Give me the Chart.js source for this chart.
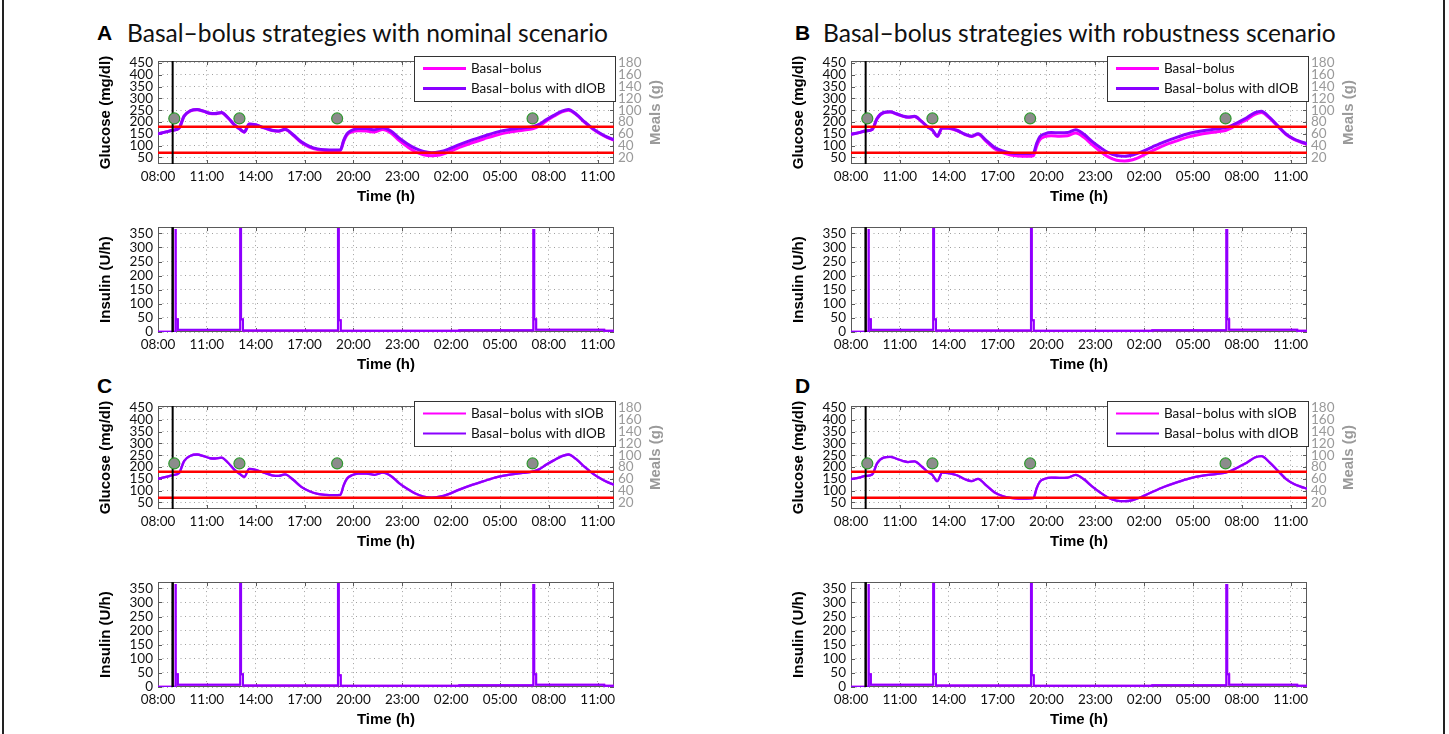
<!DOCTYPE html>
<html>
<head>
<meta charset="utf-8">
<title>Basal-bolus strategies</title>
<script src="https://cdn.jsdelivr.net/npm/chart.js@4.4.1/dist/chart.umd.min.js"></script>
<style>
  body { margin: 0; background: #fff; }
  #figure { position: relative; width: 1449px; height: 734px; overflow: hidden; background: #fff; }
  #figure canvas { position: absolute; }
  .letter { position: absolute; font: bold 21px "Liberation Sans", Arial, sans-serif; line-height: 24px; color: #000; }
  .title { position: absolute; font: 24.6px Lato, sans-serif; line-height: 28px; color: #111; white-space: nowrap; }
  .frame { position: absolute; top: 0; bottom: 0; width: 0; border-left: 2px solid #222; }
</style>
</head>
<body>
<div id="figure">
  <div class="frame" style="left:2px"></div>
  <div class="frame" style="left:1443px"></div>
  <div class="letter" style="left:97px;top:21px">A</div>
  <div class="title" style="left:127px;top:19px">Basal–bolus strategies with nominal scenario</div>
  <div class="letter" style="left:795px;top:21px">B</div>
  <div class="title" style="left:823px;top:19px">Basal–bolus strategies with robustness scenario</div>
  <div class="letter" style="left:97px;top:374px">C</div>
  <div class="letter" style="left:795px;top:374px">D</div>
</div>

<script>
// hours after 08:00 of the first day
const timeTickHours = [0, 3, 6, 9, 12, 15, 18, 21, 24, 27];
const timeTickLabels = ['08:00', '11:00', '14:00', '17:00', '20:00', '23:00', '02:00', '05:00', '08:00', '11:00'];
const glucoseTicks = [50, 100, 150, 200, 250, 300, 350, 400, 450];
const mealTicks = [20, 40, 60, 80, 100, 120, 140, 160, 180];
const insulinTicks = [0, 50, 100, 150, 200, 250, 300, 350];

const simStartHour = 0.9;
const glucoseLimits = [70, 180];
const mealHours = [1.0, 5.0, 11.0, 23.0];
const mealGrams = [86, 86, 86, 86];

const glucoseHours = [0, 0.5, 0.9, 1.3, 1.6, 2.0, 2.4, 2.8, 3.2, 3.5,
  3.9, 4.3, 4.7, 5.0, 5.3, 5.6, 6.0, 6.5, 7.0, 7.4,
  7.8, 8.3, 8.8, 9.3, 9.8, 10.3, 10.8, 11.2, 11.4, 11.6,
  11.9, 12.3, 12.8, 13.3, 13.8, 14.3, 14.8, 15.3, 15.8, 16.3,
  16.8, 17.3, 17.8, 18.5, 19.2, 20.0, 20.8, 21.6, 22.4, 23.0,
  23.4, 23.8, 24.3, 24.8, 25.2, 25.7, 26.2, 26.7, 27.2, 27.6, 28];

// nominal scenario
const glucoseNominalBasal = [150, 158, 165, 175, 224, 247, 252, 245, 236, 235,
  239, 217, 187, 171, 157, 190, 187, 175, 164, 161,
  168, 144, 113, 94, 83, 79, 78, 79, 118, 145,
  158, 163, 162, 158, 168, 153, 122, 96, 74, 61,
  57, 60, 71, 92, 110, 128, 145, 157, 165, 171,
  182, 202, 224, 243, 250, 230, 198, 170, 148, 134, 123];
const glucoseNominalDiob = [150, 158, 165, 175, 225, 248, 253, 246, 237, 236,
  240, 218, 188, 172, 158, 192, 188, 176, 165, 162,
  169, 146, 116, 97, 86, 82, 81, 82, 122, 150,
  165, 172, 172, 167, 176, 162, 132, 108, 88, 75,
  70, 74, 84, 104, 122, 140, 157, 168, 175, 180,
  190, 208, 228, 246, 253, 232, 200, 172, 150, 136, 125];
const glucoseNominalSiob = [150, 158, 165, 175, 225, 248, 253, 246, 237, 236,
  240, 218, 188, 172, 158, 192, 188, 176, 165, 162,
  169, 146, 116, 97, 86, 82, 81, 82, 122, 150,
  165, 172, 172, 167, 176, 162, 132, 108, 88, 75,
  70, 74, 84, 104, 122, 140, 157, 168, 175, 180,
  190, 208, 228, 246, 253, 232, 200, 172, 150, 136, 125];

// robustness scenario
const glucoseRobustBasal = [148, 155, 162, 168, 214, 239, 242, 234, 224, 220,
  223, 204, 179, 165, 139, 175, 173, 164, 147, 139,
  148, 118, 88, 70, 60, 56, 55, 57, 98, 125,
  138, 142, 140, 142, 153, 135, 104, 76, 52, 38,
  35, 40, 54, 78, 100, 120, 138, 150, 158, 164,
  176, 192, 210, 232, 240, 216, 182, 148, 126, 115, 106];
const glucoseRobustDiob = [148, 155, 162, 168, 215, 240, 243, 235, 225, 221,
  224, 205, 180, 166, 140, 176, 174, 165, 148, 140,
  150, 122, 93, 77, 69, 66, 66, 68, 110, 138,
  150, 155, 154, 155, 167, 148, 118, 92, 70, 58,
  55, 60, 72, 94, 115, 135, 152, 163, 170, 176,
  186, 200, 218, 240, 246, 220, 185, 150, 128, 117, 108];
const glucoseRobustSiob = [148, 155, 162, 168, 215, 240, 243, 235, 225, 221,
  224, 205, 180, 166, 140, 176, 174, 165, 148, 140,
  150, 122, 93, 77, 69, 66, 66, 68, 110, 138,
  150, 155, 154, 155, 167, 148, 118, 92, 70, 58,
  55, 60, 72, 94, 115, 135, 152, 163, 170, 176,
  186, 200, 218, 240, 246, 220, 185, 150, 128, 117, 108];

// insulin delivery, boluses at the meals
const insulinHours = [0, 1.05, 1.05, 1.1, 1.1, 1.22, 1.22, 5.05, 5.05, 5.1,
  5.1, 5.22, 5.22, 11.05, 11.05, 11.1, 11.1, 11.22, 11.22, 18.5,
  18.5, 23.05, 23.05, 23.1, 23.1, 23.22, 23.22, 27.4, 27.4, 28];
const insulinBasal = [1, 1, 365, 365, 45, 45, 7, 7, 365, 365,
  44, 44, 5, 5, 365, 365, 42, 42, 4, 4,
  6, 6, 362, 362, 45, 45, 8, 8, 4, 4];
const insulinDiob = [1, 1, 365, 365, 45, 45, 8, 8, 365, 365,
  45, 45, 5, 5, 365, 365, 42, 42, 4, 4,
  6, 6, 362, 362, 45, 45, 8, 8, 4, 4];

const glucoseMin = 22;
const glucoseMax = 458;
const insulinMax = 372;
const magenta = '#ff00ff';
const violet = '#8b00ff';

const tickFont = { family: 'Lato', size: 13.5 };
const axisTitleFont = { family: 'Liberation Sans', size: 15, weight: 'bold' };
const gridColor = '#a0a0a0';

function points(xs, ys) {
  return xs.map((x, i) => ({ x: x, y: ys[i] }));
}

function fixedTicks(values) {
  return scale => { scale.ticks = values.map(v => ({ value: v })); };
}

// MATLAB style box with inward tick marks
const axesBox = {
  id: 'axesBox',
  beforeDatasetsDraw(chart) {
    const { ctx, chartArea: a, scales } = chart;
    ctx.save();
    ctx.strokeStyle = '#5a5a5a';
    ctx.lineWidth = 1;
    ctx.beginPath();
    scales.x.ticks.forEach(t => {
      const x = Math.round(scales.x.getPixelForValue(t.value)) + 0.5;
      ctx.moveTo(x, a.bottom); ctx.lineTo(x, a.bottom - 4);
      ctx.moveTo(x, a.top); ctx.lineTo(x, a.top + 4);
    });
    scales.y.ticks.forEach(t => {
      const y = Math.round(scales.y.getPixelForValue(t.value)) + 0.5;
      ctx.moveTo(a.left, y); ctx.lineTo(a.left + 4, y);
      ctx.moveTo(a.right, y); ctx.lineTo(a.right - 4, y);
    });
    ctx.stroke();
    ctx.strokeRect(Math.round(a.left) + 0.5, Math.round(a.top) + 0.5, Math.round(a.width) - 1, Math.round(a.height) - 1);
    ctx.restore();
  }
};

const boxedLegend = {
  id: 'boxedLegend',
  afterDraw(chart, args, opts) {
    const { ctx, chartArea: a } = chart;
    const items = chart.data.datasets.filter(d => d.inLegend);
    const left = Math.round(a.right) - 200, top = Math.round(a.top) - 5;
    ctx.save();
    ctx.fillStyle = '#fff';
    ctx.fillRect(left, top, 202, 46);
    ctx.strokeStyle = '#333';
    ctx.lineWidth = 1;
    ctx.strokeRect(left + 0.5, top + 0.5, 201, 45);
    ctx.font = '13.5px Lato';
    ctx.textBaseline = 'middle';
    items.forEach((d, i) => {
      const y = top + 12.5 + i * 20;
      ctx.strokeStyle = d.borderColor;
      ctx.lineWidth = opts.lineWidth;
      ctx.beginPath();
      ctx.moveTo(left + 9, y);
      ctx.lineTo(left + 52, y);
      ctx.stroke();
      ctx.fillStyle = '#111';
      ctx.fillText(d.label, left + 57, y);
    });
    ctx.restore();
  }
};

// right axis title reads bottom to top like the left one
const mealsTitle = {
  id: 'mealsTitle',
  afterDraw(chart) {
    const { ctx, chartArea: a } = chart;
    ctx.save();
    ctx.translate(a.right + 42, (a.top + a.bottom) / 2);
    ctx.rotate(-Math.PI / 2);
    ctx.font = 'bold 15px "Liberation Sans"';
    ctx.fillStyle = '#9a9a9a';
    ctx.textAlign = 'center';
    ctx.textBaseline = 'middle';
    ctx.fillText('Meals (g)', 0, 0);
    ctx.restore();
  }
};

function timeScale() {
  return {
    type: 'linear', min: 0, max: 28,
    afterBuildTicks: fixedTicks(timeTickHours),
    afterFit: s => { s.height = 44; },
    ticks: { font: tickFont, color: '#111', padding: 5, maxRotation: 0, autoSkip: false,
      callback: (v, i) => timeTickLabels[i] },
    grid: { color: gridColor, drawTicks: false },
    border: { display: false, dash: [1, 3.5] },
    title: { display: true, text: 'Time (h)', font: axisTitleFont, color: '#000', padding: { top: 0, bottom: 2 } }
  };
}

function leftScale(min, max, ticks, text) {
  return {
    type: 'linear', position: 'left', min: min, max: max,
    afterBuildTicks: fixedTicks(ticks),
    afterFit: s => { s.width = 68; },
    ticks: { font: tickFont, color: '#111', padding: 5, autoSkip: false },
    grid: { color: gridColor, drawTicks: false },
    border: { display: false, dash: [1, 3.5] },
    title: { display: true, text: text, font: axisTitleFont, color: '#000', padding: { top: 6.5, bottom: 0 } }
  };
}

function addCanvas(left, top, width, height) {
  const c = document.createElement('canvas');
  c.width = width;
  c.height = height;
  c.style.left = left + 'px';
  c.style.top = top + 'px';
  c.style.width = width + 'px';
  c.style.height = height + 'px';
  document.getElementById('figure').appendChild(c);
  return c;
}

function createGlucoseChart(canvas, panel) {
  const curves = panel.series.map((s, i) => ({
    label: s.label,
    inLegend: true,
    data: points(glucoseHours, s.glucose),
    borderColor: s.color,
    borderWidth: panel.lineWidth,
    cubicInterpolationMode: 'monotone',
    order: 4 - i
  }));

  new Chart(canvas, {
    type: 'line',
    data: {
      datasets: [
        {
          data: points(mealHours, mealGrams), yAxisID: 'meals', showLine: false,
          pointRadius: 5.5, pointBackgroundColor: '#8c8c8c', pointBorderColor: '#2f9a2f', pointBorderWidth: 1.2,
          order: 0
        },
        {
          data: [{ x: simStartHour, y: glucoseMin }, { x: simStartHour, y: glucoseMax }],
          borderColor: '#000', borderWidth: 2, order: 1
        },
        ...glucoseLimits.map(v => ({
          data: [{ x: 0, y: v }, { x: 28, y: v }], borderColor: '#ff0000', borderWidth: 2.5, order: 2
        })),
        ...curves
      ]
    },
    options: {
      responsive: false,
      animation: false,
      devicePixelRatio: 1,
      events: [],
      layout: { padding: { top: 10, left: 0, right: 0, bottom: 0 } },
      elements: { point: { radius: 0 } },
      scales: {
        x: timeScale(),
        y: leftScale(glucoseMin, glucoseMax, glucoseTicks, 'Glucose (mg/dl)'),
        meals: {
          type: 'linear', position: 'right', min: glucoseMin / 2.5, max: glucoseMax / 2.5,
          afterBuildTicks: fixedTicks(mealTicks),
          afterFit: s => { s.width = 62; },
          ticks: { font: tickFont, color: '#9a9a9a', padding: 4, autoSkip: false },
          grid: { drawOnChartArea: false, drawTicks: false },
          border: { display: false }
        }
      },
      plugins: {
        legend: { display: false },
        tooltip: { enabled: false },
        boxedLegend: { lineWidth: panel.legendWidth }
      }
    },
    plugins: [axesBox, boxedLegend, mealsTitle]
  });
}

function createInsulinChart(canvas, panel) {
  const traces = panel.series.map((s, i) => ({
    label: s.label,
    data: points(insulinHours, s.insulin),
    borderColor: s.color,
    borderWidth: 2,
    order: 4 - i
  }));

  new Chart(canvas, {
    type: 'line',
    data: {
      datasets: [
        {
          data: [{ x: simStartHour, y: 0 }, { x: simStartHour, y: insulinMax }],
          borderColor: '#000', borderWidth: 2.5, order: 1
        },
        ...traces
      ]
    },
    options: {
      responsive: false,
      animation: false,
      devicePixelRatio: 1,
      events: [],
      layout: { padding: { top: 10, left: 0, right: 20, bottom: 0 } },
      elements: { point: { radius: 0 } },
      scales: {
        x: timeScale(),
        y: leftScale(0, insulinMax, insulinTicks, 'Insulin (U/h)')
      },
      plugins: { legend: { display: false }, tooltip: { enabled: false } }
    },
    plugins: [axesBox]
  });
}

const panels = [
  {
    plotLeft: 158, glucoseTop: 58, insulinTop: 224, lineWidth: 3, legendWidth: 3,
    series: [
      { label: 'Basal–bolus', color: magenta, glucose: glucoseNominalBasal, insulin: insulinBasal },
      { label: 'Basal–bolus with dIOB', color: violet, glucose: glucoseNominalDiob, insulin: insulinDiob }
    ]
  },
  {
    plotLeft: 851, glucoseTop: 58, insulinTop: 224, lineWidth: 3, legendWidth: 3,
    series: [
      { label: 'Basal–bolus', color: magenta, glucose: glucoseRobustBasal, insulin: insulinBasal },
      { label: 'Basal–bolus with dIOB', color: violet, glucose: glucoseRobustDiob, insulin: insulinDiob }
    ]
  },
  {
    plotLeft: 158, glucoseTop: 403, insulinTop: 579, lineWidth: 2.3, legendWidth: 2,
    series: [
      { label: 'Basal–bolus with sIOB', color: magenta, glucose: glucoseNominalSiob, insulin: insulinDiob },
      { label: 'Basal–bolus with dIOB', color: violet, glucose: glucoseNominalDiob, insulin: insulinDiob }
    ]
  },
  {
    plotLeft: 851, glucoseTop: 403, insulinTop: 579, lineWidth: 2.3, legendWidth: 2,
    series: [
      { label: 'Basal–bolus with sIOB', color: magenta, glucose: glucoseRobustSiob, insulin: insulinDiob },
      { label: 'Basal–bolus with dIOB', color: violet, glucose: glucoseRobustDiob, insulin: insulinDiob }
    ]
  }
];

function drawAll() {
  panels.forEach(p => {
    createGlucoseChart(addCanvas(p.plotLeft - 68, p.glucoseTop - 10, 68 + 456 + 62, 10 + 106 + 44), p);
    createInsulinChart(addCanvas(p.plotLeft - 68, p.insulinTop - 10, 68 + 456 + 20, 10 + 108 + 44), p);
  });
}

Promise.all([
  document.fonts.load('13px Lato'),
  document.fonts.load('bold 15px "Liberation Sans"')
]).catch(() => {}).then(drawAll);
</script>
</body>
</html>
